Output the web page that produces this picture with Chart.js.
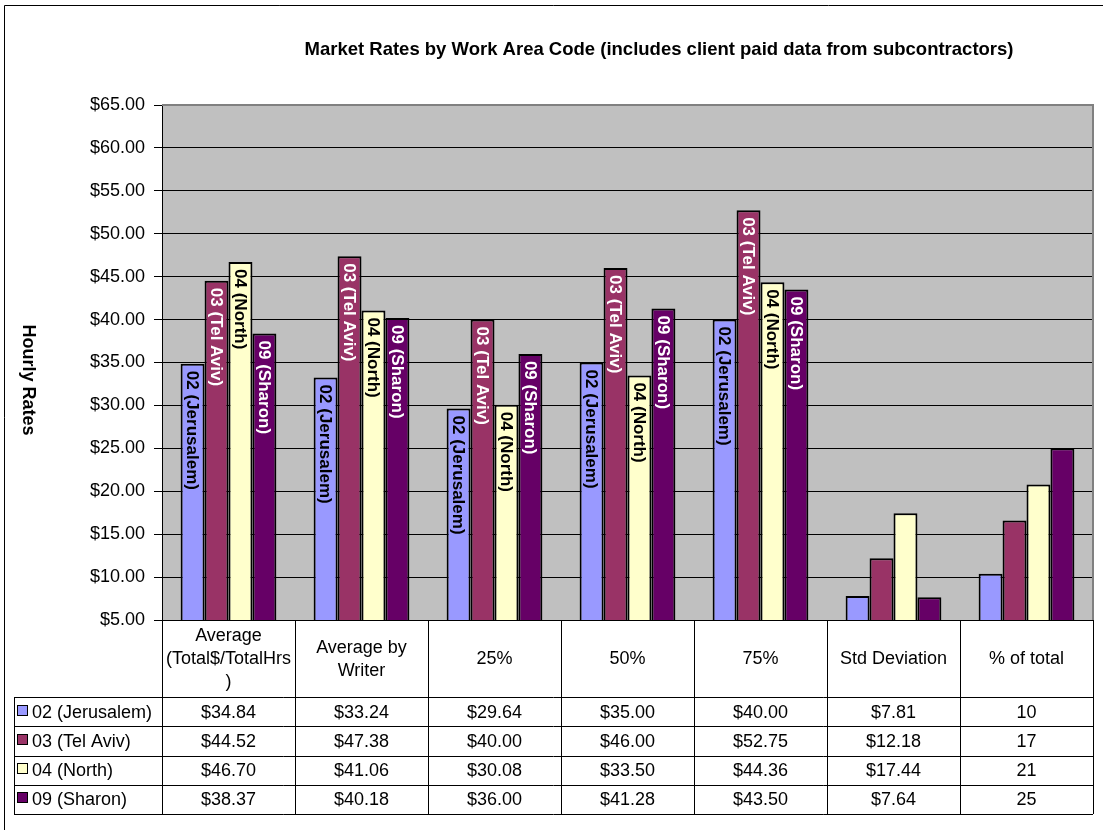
<!DOCTYPE html>
<html>
<head>
<meta charset="utf-8">
<script src="https://cdn.jsdelivr.net/npm/chart.js@4/dist/chart.umd.min.js"></script>
<style>
  html, body { margin: 0; padding: 0; background: #fff; }
</style>
</head>
<body>
<canvas id="chart" width="1103" height="830"></canvas>
<script>
// categories (header row of the data table, multi-line where Excel wrapped them)
const categories = [
  ['Average', '(Total$/TotalHrs', ')'],
  ['Average by', 'Writer'],
  '25%', '50%', '75%', 'Std Deviation', '% of total'
];
const seriesNames = ['02 (Jerusalem)', '03 (Tel Aviv)', '04 (North)', '09 (Sharon)'];

const jerusalem = [34.84, 33.24, 29.64, 35.00, 40.00, 7.81, 10.4];
const telAviv   = [44.52, 47.38, 40.00, 46.00, 52.75, 12.18, 16.6];
const north     = [46.70, 41.06, 30.08, 33.50, 44.36, 17.44, 20.8];
const sharon    = [38.37, 40.18, 36.00, 41.28, 43.50, 7.64, 25.0];

const yMin = 5, yMax = 65, yStep = 5;
const chartTitle = 'Market Rates by Work Area Code (includes client paid data from subcontractors)';
const yTitle = 'Hourly Rates';

const colors = ['#9999ff', '#993366', '#ffffcc', '#660066'];
const labelColors = ['#000', '#fff', '#000', '#fff'];
const labelledCats = 5; // last two groups have no labels in the bars
const FONT = 'Arial, "Liberation Sans", sans-serif';

const allSeries = [jerusalem, telAviv, north, sharon];

function fmtCell(v, col) {
  // "% of total" column is shown as a whole number
  if (col === categories.length - 1) return String(Math.round(v));
  return '$' + v.toFixed(2);
}

const excelPlugin = {
  id: 'excelLook',
  beforeDraw(chart) {
    const { ctx, chartArea: a } = chart;
    ctx.save();
    ctx.fillStyle = '#c0c0c0';
    ctx.fillRect(a.left, a.top, a.right - a.left, a.bottom - a.top);
    ctx.restore();
  },
  afterDatasetsDraw(chart) {
    const ctx = chart.ctx;
    chart.data.datasets.forEach((ds, di) => {
      const meta = chart.getDatasetMeta(di);
      meta.data.forEach((bar, i) => {
        if (i >= labelledCats) return;
        ctx.save();
        ctx.translate(bar.x, bar.y + 7);
        ctx.rotate(Math.PI / 2);
        ctx.font = 'bold 17px ' + FONT;
        ctx.fillStyle = labelColors[di];
        ctx.textAlign = 'left';
        ctx.textBaseline = 'middle';
        ctx.fillText(ds.label, 0, 1);
        ctx.restore();
      });
    });
  },
  afterDraw(chart) {
    const { ctx, chartArea: a } = chart;
    const xs = chart.scales.x;
    const colW = (a.right - a.left) / categories.length;
    const headBottom = Math.round(a.bottom + 77);
    const rowH = 29.25;
    const tableBottom = headBottom + rowH * 4;
    const legendLeft = 14;

    ctx.save();
    // plot area frame (top / right), grey like Excel
    ctx.strokeStyle = '#808080';
    ctx.lineWidth = 2;
    ctx.beginPath();
    ctx.moveTo(a.left, a.top);
    ctx.lineTo(a.right, a.top);
    ctx.lineTo(a.right, a.bottom);
    ctx.stroke();

    // data table grid
    ctx.strokeStyle = '#000';
    ctx.lineWidth = 1;
    ctx.beginPath();
    for (let i = 0; i <= categories.length; i++) {
      const x = Math.round(a.left + i * colW) + 0.5;
      ctx.moveTo(x, a.bottom);
      ctx.lineTo(x, Math.round(tableBottom));
    }
    for (let r = 0; r <= 4; r++) {
      const y = Math.round(headBottom + r * rowH) + 0.5;
      ctx.moveTo(legendLeft, y);
      ctx.lineTo(a.right, y);
    }
    ctx.moveTo(legendLeft + 0.5, headBottom);
    ctx.lineTo(legendLeft + 0.5, Math.round(tableBottom) + 0.5);
    ctx.stroke();

    // header row: category names, centred in their cells
    ctx.font = '18px ' + FONT;
    ctx.fillStyle = '#000';
    ctx.textAlign = 'center';
    ctx.textBaseline = 'middle';
    const headMid = (a.bottom + headBottom) / 2 + 1;
    categories.forEach((lab, c) => {
      const lines = Array.isArray(lab) ? lab : [lab];
      const lh = 23;
      lines.forEach((ln, k) => {
        ctx.fillText(ln, xs.getPixelForValue(c), headMid + (k - (lines.length - 1) / 2) * lh);
      });
    });

    // table rows: legend key + name + values
    allSeries.forEach((vals, r) => {
      const cy = headBottom + r * rowH + rowH / 2 + 1;
      ctx.fillStyle = colors[r];
      ctx.fillRect(17.5, Math.round(cy) - 7.5, 10, 10);
      ctx.strokeStyle = '#000';
      ctx.strokeRect(17.5, Math.round(cy) - 7.5, 10, 10);
      ctx.fillStyle = '#000';
      ctx.textAlign = 'left';
      ctx.fillText(seriesNames[r], 32, cy);
      ctx.textAlign = 'center';
      vals.forEach((v, c) => {
        ctx.fillText(fmtCell(v, c), xs.getPixelForValue(c), cy);
      });
    });

    // title
    ctx.font = 'bold 18.5px ' + FONT;
    ctx.textAlign = 'center';
    ctx.fillText(chartTitle, 659, 50);

    // y axis title, reading top to bottom
    ctx.save();
    ctx.font = 'bold 18px ' + FONT;
    ctx.translate(28, 380);
    ctx.rotate(Math.PI / 2);
    ctx.fillText(yTitle, 0, 0);
    ctx.restore();

    // outer chart frame
    ctx.strokeStyle = '#000';
    ctx.beginPath();
    ctx.moveTo(4.5, 830);
    ctx.lineTo(4.5, 5.5);
    ctx.lineTo(1103, 5.5);
    ctx.stroke();
    ctx.restore();
  }
};

new Chart(document.getElementById('chart'), {
  type: 'bar',
  data: {
    labels: categories,
    datasets: allSeries.map((vals, i) => ({
      label: seriesNames[i],
      data: vals,
      backgroundColor: colors[i],
      borderColor: '#000',
      borderWidth: 2,
      categoryPercentage: 0.72,
      barPercentage: 1
    }))
  },
  options: {
    responsive: false,
    animation: false,
    layout: { padding: { top: 105, right: 10, left: 0, bottom: 0 } },
    plugins: {
      legend: { display: false },
      title: { display: false },
      tooltip: { enabled: false }
    },
    scales: {
      x: {
        grid: { display: false, drawTicks: false },
        border: { display: true, color: '#000', width: 1 },
        ticks: { display: false },
        afterFit(s) { s.height = 210; }
      },
      y: {
        min: yMin,
        max: yMax,
        grid: { color: '#000', lineWidth: 1, tickLength: 8 },
        border: { color: '#000', width: 1 },
        ticks: {
          stepSize: yStep,
          color: '#000',
          font: { family: FONT, size: 18 },
          padding: 9,
          callback: v => '$' + v.toFixed(2)
        },
        afterFit(s) { s.width = 162; }
      }
    }
  },
  plugins: [excelPlugin]
});
</script>
</body>
</html>
